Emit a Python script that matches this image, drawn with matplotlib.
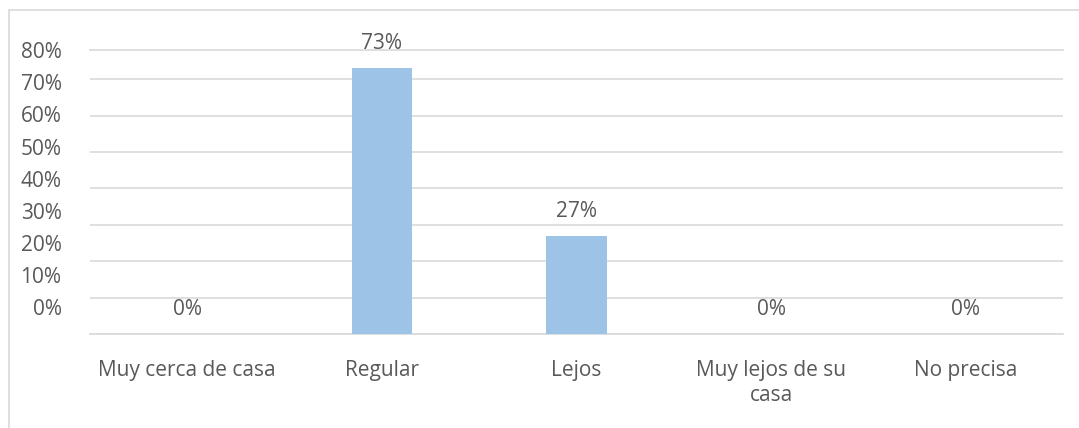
import numpy as np
import matplotlib.pyplot as plt
from matplotlib.patches import Rectangle

# Data
categories = ["Muy cerca de casa", "Regular", "Lejos", "Muy lejos de su\ncasa", "No precisa"]
values = [0.0, 0.73, 0.27, 0.0, 0.0]
tick_values = [0.0, 0.1, 0.2, 0.3, 0.4, 0.5, 0.6, 0.7, 0.8]
tick_labels = ["0%", "10%", "20%", "30%", "40%", "50%", "60%", "70%", "80%"]

plt.rcParams["font.family"] = ["Open Sans", "DejaVu Sans"]
text_color = "#595959"
grid_color = "#D9D9D9"
bar_color = "#9DC3E6"
fs = 15

W, H = 1079, 428
fig = plt.figure(figsize=(W / 100, H / 100), dpi=100)

# Outer chart border
fig.patches.append(Rectangle((9 / W, -0.1), 1.2, (H - 10) / H + 0.1,
                             transform=fig.transFigure, fill=False,
                             edgecolor=grid_color, linewidth=1.2))

# Plot area
left, right = 90 / W, 1063 / W
bottom, top = (H - 334) / H, (H - 50) / H
ax = fig.add_axes([left, bottom, right - left, top - bottom])

x = np.arange(len(categories))
ax.bar(x, values, width=0.31, color=bar_color, zorder=3)

ax.set_xlim(-0.5, len(categories) - 0.5)
ax.set_ylim(0, 0.78)
ax.set_yticks(tick_values[:-1])
ax.yaxis.grid(True, color=grid_color, linewidth=1.2, zorder=0)
ax.tick_params(axis="y", left=False, labelleft=False)
ax.set_xticks(x)
ax.set_xticklabels(categories, fontsize=fs, color=text_color, linespacing=1.3)
ax.tick_params(axis="x", bottom=False, pad=15)

for side in ["left", "right"]:
    ax.spines[side].set_visible(False)
for side in ["top", "bottom"]:
    ax.spines[side].set_color(grid_color)
    ax.spines[side].set_linewidth(1.2)

# Data labels
for xi, v in zip(x, values):
    ax.annotate(f"{v:.0%}", (xi, v), xytext=(0, 17.5), textcoords="offset points",
                ha="center", va="center", fontsize=fs, color=text_color)

# Value axis labels (drawn on their own scale, as in the source)
lab = fig.add_axes([left, bottom, right - left, top - bottom], frameon=False)
lab.set_ylim(-0.0824, 0.7847)
lab.set_yticks(tick_values)
lab.set_yticklabels(tick_labels, fontsize=fs, color=text_color)
lab.tick_params(axis="y", left=False, pad=17)
lab.set_xticks([])
lab.patch.set_visible(False)

fig.savefig("out.png", dpi=100)
